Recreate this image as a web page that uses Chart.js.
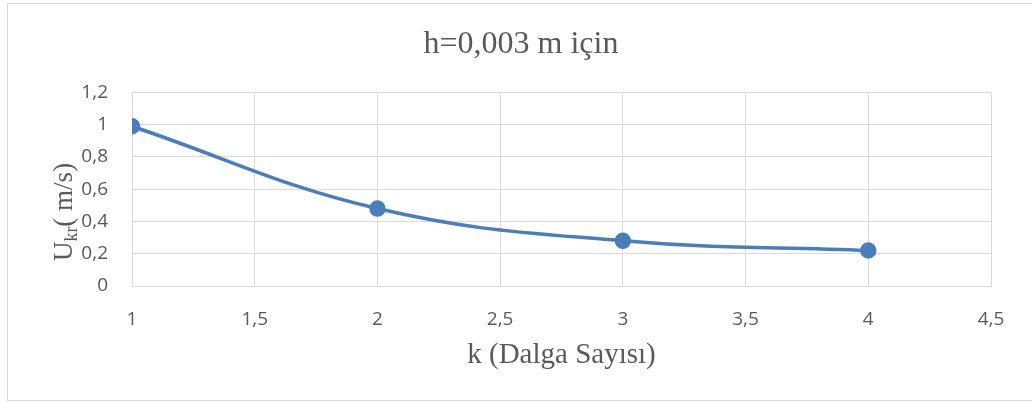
<!DOCTYPE html>
<html>
<head>
<meta charset="utf-8">
<script src="https://cdn.jsdelivr.net/npm/chart.js@4"></script>
<style>
  body { margin: 0; background: #fff; }
</style>
</head>
<body>
<canvas id="myChart" width="1032" height="403"></canvas>
<script>
const kValues = [1, 2, 3, 4];
const uValues = [0.99, 0.48, 0.28, 0.22];
const xTickValues = [1, 1.5, 2, 2.5, 3, 3.5, 4, 4.5];
const yTickValues = [0, 0.2, 0.4, 0.6, 0.8, 1, 1.2];

const gridColor = '#d9d9d9';
const textColor = '#595959';
const lineColor = '#4a7ebb';
const serif = '"Liberation Serif", "Times New Roman", serif';

const commaNum = (v) => String(Number(v.toFixed(2))).replace('.', ',');

const frame = {
  id: 'frame',
  beforeDraw(chart) {
    const ctx = chart.ctx;
    ctx.save();
    ctx.fillStyle = '#fff';
    ctx.fillRect(0, 0, chart.width, chart.height);
    ctx.strokeStyle = gridColor;
    ctx.lineWidth = 1;
    ctx.strokeRect(7.5, 3.5, 1030, 397);
    ctx.restore();
  },
  afterDraw(chart) {
    // y axis title with subscript
    const ctx = chart.ctx;
    const big = '27px ' + serif;
    const small = '18px ' + serif;
    ctx.save();
    ctx.fillStyle = textColor;
    ctx.textBaseline = 'alphabetic';
    ctx.font = big;
    const wU = ctx.measureText('U').width;
    const wRest = ctx.measureText('( m/s)').width;
    ctx.font = small;
    const wSub = ctx.measureText('kr').width;
    const total = wU + wSub + wRest;
    ctx.translate(72, 212);
    ctx.rotate(-Math.PI / 2);
    let x = -total / 2;
    ctx.font = big;
    ctx.fillText('U', x, 0);
    x += wU;
    ctx.font = small;
    ctx.fillText('kr', x, 5);
    x += wSub;
    ctx.font = big;
    ctx.fillText('( m/s)', x, 0);
    ctx.restore();
  }
};

new Chart('myChart', {
  type: 'line',
  data: {
    datasets: [
      {
        data: kValues.map((k, i) => ({ x: k, y: uValues[i] })),
        borderColor: lineColor,
        backgroundColor: lineColor,
        borderWidth: 3.5,
        pointRadius: 6.5,
        pointHoverRadius: 6.5,
        pointBackgroundColor: lineColor,
        pointBorderColor: lineColor,
        tension: 0.4,
        fill: false,
      },
    ],
  },
  options: {
    responsive: false,
    animation: false,
    layout: { padding: { left: 10, right: 0, top: 0, bottom: 0 } },
    plugins: {
      legend: { display: false },
      tooltip: { enabled: false },
      title: {
        display: true,
        text: 'h=0,003 m için',
        color: textColor,
        font: { family: serif, size: 32, weight: 'normal', lineHeight: 1.2 },
        padding: { top: 25, bottom: 29 },
      },
    },
    scales: {
      x: {
        type: 'linear',
        min: 1,
        max: 4.5,
        afterBuildTicks: (scale) => {
          scale.ticks = xTickValues.map((v) => ({ value: v }));
        },
        afterFit: (scale) => {
          scale.height = 117;
        },
        ticks: {
          callback: (v) => commaNum(v),
          color: textColor,
          font: { family: '"Open Sans", sans-serif', size: 19, lineHeight: 1.2 },
          padding: 22,
          maxRotation: 0,
        },
        grid: { color: gridColor, drawTicks: false },
        border: { color: gridColor },
        title: {
          display: true,
          text: 'k (Dalga Sayısı)',
          color: textColor,
          font: { family: serif, size: 29, lineHeight: 1.2 },
          padding: { top: 10, bottom: 30 },
        },
      },
      y: {
        min: 0,
        max: 1.2,
        afterBuildTicks: (scale) => {
          scale.ticks = yTickValues.map((v) => ({ value: v }));
        },
        afterFit: (scale) => {
          scale.width = 122;
        },
        ticks: {
          callback: (v) => commaNum(v),
          color: textColor,
          font: { family: '"Open Sans", sans-serif', size: 19, lineHeight: 1.2 },
          padding: 24,
        },
        grid: { color: gridColor, drawTicks: false },
        border: { color: gridColor },
      },
      yRight: {
        position: 'right',
        display: true,
        min: 0,
        max: 1.2,
        afterFit: (scale) => {
          scale.width = 41;
        },
        ticks: { display: false },
        grid: { display: false, drawTicks: false },
        border: { display: false },
      },
    },
  },
  plugins: [frame],
});
</script>
</body>
</html>
